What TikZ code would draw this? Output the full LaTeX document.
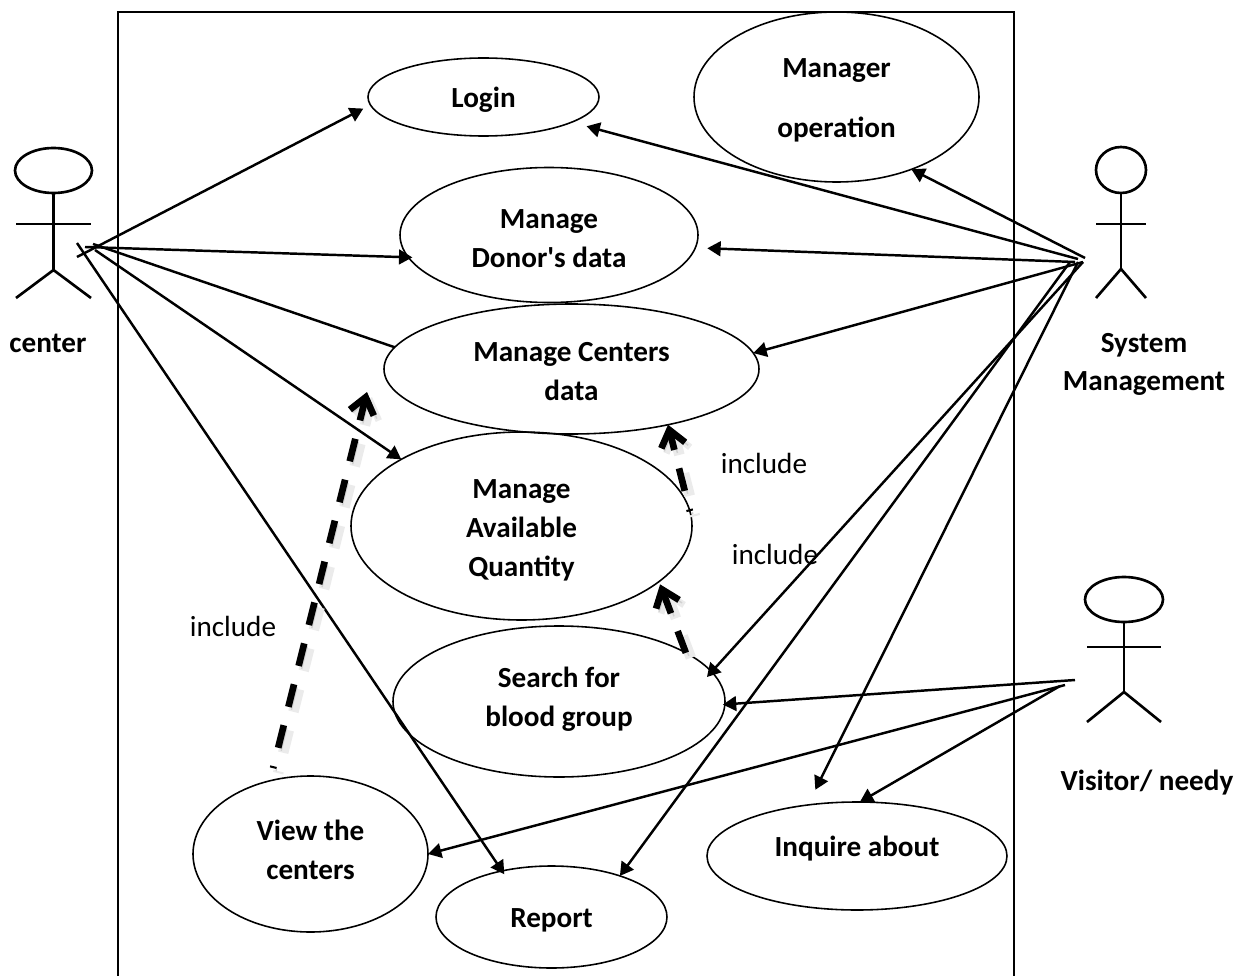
\documentclass[tikz,border=0pt]{standalone}
\usepackage{fontspec}
\setmainfont{Carlito}
\usetikzlibrary{arrows.meta, shapes.geometric}

\tikzset{
  usecase/.style={shape=ellipse, draw, line width=0.45pt, inner sep=0pt, outer sep=0pt,
                  align=center, font=\fontsize{8.3}{11.1}\selectfont\bfseries},
  actorhead/.style={shape=ellipse, draw, line width=0.75pt, inner sep=0pt, outer sep=0pt},
  actorline/.style={line width=0.75pt},
  actorname/.style={align=center, font=\fontsize{8.3}{10.8}\selectfont\bfseries},
  includetext/.style={font=\fontsize{8.3}{10}\selectfont},
  includeline/.style={line width=1.9pt, dash pattern=on 6.6pt off 5.4pt, dash phase=#1,
                      -{Straight Barb[length=4.5pt,width=7pt,line width=1.9pt]},
                      preaction={draw=black!8, line width=3pt, dash pattern=on 6.6pt off 5.4pt, dash phase=#1,
                                 transform canvas={shift={(0.05,-0.05)}}},
                      preaction={draw=black!18, dash pattern=on 6.6pt off 5.4pt, dash phase=#1,
                                 transform canvas={shift={(0.03,-0.03)}}}},
  includeline/.default=0pt,
}

\begin{document}
\begin{tikzpicture}
\useasboundingbox (0, 0) rectangle (12.5, -9.76);

% system boundary
\draw [line width=0.6pt] (1.18, -9.76) |- (10.14, -0.12) -- (10.14, -9.76);

% use cases
\begin{scope}[every node/.style={usecase}]
    \node (login) at (4.835, -0.97) [minimum width=2.31cm, minimum height=0.78cm] {\\[-3.7pt]Login};
    \node (manager) at (8.365, -0.97) [minimum width=2.85cm, minimum height=1.70cm] {\\[-3.7pt]Manager\\[0.21cm]operation};
    \node (donor) at (5.49, -2.35) [minimum width=2.98cm, minimum height=1.35cm] {\\[-3.7pt]Manage\\Donor\textquotesingle s data};
    \node (centers) at (5.715, -3.69) [minimum width=3.75cm, minimum height=1.30cm] {\\[-4.2pt]Manage Centers\\data};
    \node (quantity) at (5.215, -5.26) [minimum width=3.41cm, minimum height=1.88cm] {\\[-3.1pt]Manage\\Available\\Quantity};
    \node (search) at (5.59, -7.015) [minimum width=3.32cm, minimum height=1.51cm] {Search for\\blood group\\[-8.4pt]{}};
    \node (view) at (3.105, -8.54) [minimum width=2.35cm, minimum height=1.56cm] {View the\\centers\\[-8.6pt]{}};
    \node (inquire) at (8.57, -8.56) [minimum width=3.00cm, minimum height=1.08cm, text depth=0.2cm] {Inquire about};
    \node (report) at (5.515, -9.17) [minimum width=2.31cm, minimum height=1.02cm] {\\[-3.7pt]Report};
\end{scope}

% actors
\node (centerhead) at (0.535, -1.705) [actorhead, minimum width=0.77cm, minimum height=0.45cm] {};
\coordinate (centerhip) at (0.535, -2.70);
\draw [actorline] (centerhead.south) -- (centerhip);
\draw [actorline] (0.16, -2.24) -- (0.91, -2.24);
\draw [actorline] (0.16, -2.98) -- (centerhip) -- (0.91, -2.98);

\node (systemhead) at (11.21, -1.70) [actorhead, minimum width=0.50cm, minimum height=0.46cm] {};
\coordinate (systemhip) at (11.21, -2.69);
\draw [actorline] (systemhead.south) -- (systemhip);
\draw [actorline] (10.96, -2.24) -- (11.46, -2.24);
\draw [actorline] (10.96, -2.98) -- (systemhip) -- (11.46, -2.98);

\node (visitorhead) at (11.24, -5.995) [actorhead, minimum width=0.78cm, minimum height=0.45cm] {};
\coordinate (visitorhip) at (11.24, -6.92);
\draw [actorline] (visitorhead.south) -- (visitorhip);
\draw [actorline] (10.87, -6.47) -- (11.61, -6.47);
\draw [actorline] (10.87, -7.22) -- (visitorhip) -- (11.61, -7.22);

% labels
\node (centername) at (0.48, -3.43) [actorname] {center};
\node (systemname) at (11.44, -3.64) [actorname] {System\\Management};
\node (visitorname) at (11.47, -7.83) [actorname] {Visitor/ needy};
\node (includeview) at (2.33, -6.26) [includetext] {include};
\node (includecenters) at (7.64, -4.63) [includetext] {include};
\node (includequantity) at (7.75, -5.54) [includetext] {include};

% ends of the hands
\coordinate (centerhanda) at (0.77, -2.57);
\coordinate (centerhandb) at (0.85, -2.47);
\coordinate (centerhandc) at (0.93, -2.44);
\coordinate (centerhandd) at (0.95, -2.50);
\coordinate (centerhande) at (0.77, -2.43);
\coordinate (systemhanda) at (10.85, -2.58);
\coordinate (systemhandb) at (10.78, -2.59);
\coordinate (systemhandc) at (10.75, -2.62);
\coordinate (systemhandd) at (10.83, -2.62);
\coordinate (systemhande) at (10.70, -2.62);
\coordinate (systemhandf) at (10.78, -2.62);
\coordinate (visitorhanda) at (10.75, -6.80);
\coordinate (visitorhandb) at (10.65, -6.85);
\coordinate (visitorhandc) at (10.60, -6.86);
\coordinate (viewtip) at (3.67, -3.92);

\begin{scope}[>={Stealth[black, length=3.8pt, width=4.2pt, inset=0pt]},
              every edge/.style={draw, line width=0.7pt}]
    \path [->] (centerhanda) edge [shorten >=0.08cm] (login.184);
    \path [->] (centerhandb) edge [shorten >=-0.04cm] (donor.189);
    \path [-] (centerhandc) edge (centers.173);
    \path [->] (centerhandd) edge (quantity.151);
    \path [->] (centerhande) edge [shorten >=-0.04cm] (report.137);

    \path [->] (systemhanda) edge (manager.316);
    \path [->] (systemhandb) edge [shorten >=0.155cm] (login.344);
    \path [->] (systemhandc) edge [shorten >=0.12cm] (donor.355);
    \path [->] (systemhandd) edge (centers.5);
    \path [->] (systemhandd) edge [shorten >=-0.07cm] (search.11);
    \path [->] (systemhande) edge (report.31);
    \path [->] (systemhandf) edge [shorten >=0.17cm] (inquire.134);

    \path [->] (visitorhanda) edge [shorten >=-0.02cm] (search.359);
    \path [->] (visitorhandb) edge (view.0);
    \path [->] (visitorhandc) edge (inquire.87);
\end{scope}

% include arrows
\draw [includeline=6pt, shorten <=0.13cm] (view.119) -- (viewtip);
\draw [includeline=6pt] (quantity.5) -- (centers.330);
\draw [includeline, shorten >=0.03cm] (search.21) -- (quantity.338);
\end{tikzpicture}
\end{document}
